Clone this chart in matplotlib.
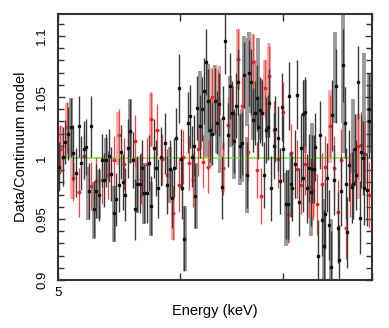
import numpy as np
import matplotlib
matplotlib.use('Agg')
from matplotlib import pyplot as plt
from matplotlib.ticker import MultipleLocator, FuncFormatter, NullLocator

plt.rcParams['font.family'] = ['Liberation Sans', 'DejaVu Sans']

# black data set: energy (keV), ratio, 1-sigma error
black_e = [5.01, 5.035, 5.055, 5.077, 5.098, 5.116, 5.137, 5.157, 5.177, 5.196,
           5.216, 5.234, 5.255, 5.276, 5.294, 5.316, 5.337, 5.353, 5.372, 5.396,
           5.412, 5.436, 5.455, 5.477, 5.495,
           5.51, 5.53, 5.55, 5.57, 5.59, 5.61, 5.63, 5.65, 5.666, 5.69,
           5.71, 5.73, 5.75, 5.77, 5.79, 5.81, 5.83, 5.87, 5.89, 5.91,
           5.93, 5.95, 5.97, 5.99, 6.01, 6.02, 6.04,
           6.07, 6.09, 6.11, 6.13, 6.14, 6.16, 6.18, 6.20, 6.22, 6.24,
           6.26, 6.28, 6.30, 6.32, 6.34, 6.36, 6.39, 6.40, 6.42, 6.45,
           6.47, 6.49, 6.51, 6.53, 6.55, 6.57, 6.59, 6.61, 6.63, 6.65,
           6.67, 6.69, 6.71, 6.73, 6.75, 6.77, 6.79, 6.81, 6.83, 6.85,
           6.86, 6.88, 6.91, 6.92, 6.95, 6.97, 6.99, 7.00, 7.03, 7.05,
           7.07, 7.09, 7.10, 7.13, 7.15, 7.17, 7.19, 7.21, 7.22, 7.24,
           7.26, 7.28, 7.30,
           7.31, 7.33, 7.35, 7.38, 7.40, 7.42, 7.44, 7.46, 7.48, 7.50,
           7.52, 7.54, 7.56, 7.58, 7.60, 7.62, 7.64, 7.66, 7.68, 7.70,
           7.71, 7.73, 7.76, 7.78, 7.80, 7.81, 7.83, 7.86, 7.87, 7.89,
           7.91, 7.94, 7.96, 7.97]
black_r = [0.993, 1.001, 1.013, 1.020, 1.025, 1.004, 0.988, 1.026, 0.996, 1.007,
           1.009, 0.973, 1.026, 0.958, 0.973, 0.970, 0.998, 0.982, 0.998, 1.002,
           0.987, 0.955, 0.966, 0.978, 1.005,
           0.980, 0.970, 1.008, 1.022, 0.998, 0.958, 0.979, 0.979, 0.992, 0.971,
           0.971, 0.996, 0.961, 1.008, 0.992, 0.975, 1.001, 1.012, 0.978, 0.991,
           0.967, 0.992, 1.016, 1.057, 0.999, 0.975, 0.934,
           1.029, 1.034, 1.001, 1.010, 0.969, 1.041, 1.026, 1.040, 1.055, 1.079,
           1.047, 1.023, 1.020, 1.047, 1.029, 1.044, 0.976, 1.033, 1.096, 1.019,
           1.059, 1.037, 1.014, 1.043, 1.062, 1.010, 1.012, 1.068, 0.986, 1.070,
           1.062, 1.031, 1.037, 1.049, 1.025, 1.039, 1.037, 0.986, 1.023, 1.025,
           1.045, 0.975, 1.010, 1.024, 1.016, 0.981, 1.042, 1.007, 0.962, 0.962,
           1.051, 0.979, 0.975, 0.995, 1.052, 0.964, 1.008, 1.036, 0.984, 1.038,
           0.975, 0.992, 0.972,
           0.991, 0.991, 1.009, 0.920, 1.019, 0.949, 0.928, 0.954, 0.984, 0.945,
           0.911, 1.035, 0.982, 1.059, 0.943, 0.916, 0.973, 1.076, 1.029, 0.979,
           0.939, 0.994, 0.976, 0.979, 1.007, 0.986, 1.062, 0.951, 1.005, 1.000,
           0.975, 0.974, 1.040, 1.030]
black_err = [0.020, 0.024, 0.018, 0.022, 0.024, 0.023, 0.020, 0.025, 0.022, 0.023,
             0.023, 0.023, 0.025, 0.023, 0.022, 0.022, 0.022, 0.022, 0.022, 0.022,
             0.022, 0.023, 0.022, 0.022, 0.022,
             0.023, 0.022, 0.024, 0.026, 0.023, 0.025, 0.023, 0.024, 0.023, 0.024,
             0.024, 0.023, 0.024, 0.024, 0.023, 0.024, 0.024, 0.025, 0.024, 0.024,
             0.024, 0.024, 0.025, 0.028, 0.025, 0.025, 0.027,
             0.025, 0.026, 0.025, 0.025, 0.026, 0.026, 0.026, 0.026, 0.027, 0.027,
             0.026, 0.026, 0.026, 0.027, 0.026, 0.026, 0.026, 0.026, 0.027, 0.026,
             0.027, 0.026, 0.026, 0.027, 0.027, 0.026, 0.026, 0.027, 0.027, 0.027,
             0.027, 0.026, 0.026, 0.027, 0.026, 0.027, 0.027, 0.027, 0.027, 0.027,
             0.028, 0.027, 0.027, 0.027, 0.027, 0.027, 0.028, 0.027, 0.028, 0.028,
             0.028, 0.027, 0.027, 0.028, 0.028, 0.028, 0.028, 0.028, 0.028, 0.028,
             0.028, 0.028, 0.028,
             0.028, 0.028, 0.028, 0.029, 0.028, 0.029, 0.029, 0.029, 0.028, 0.029,
             0.029, 0.029, 0.029, 0.030, 0.029, 0.029, 0.029, 0.030, 0.029, 0.029,
             0.029, 0.029, 0.029, 0.029, 0.029, 0.029, 0.030, 0.030, 0.030, 0.030,
             0.030, 0.030, 0.030, 0.030]

# red data set
red_e = [5.015, 5.065, 5.116, 5.16, 5.20, 5.25, 5.295, 5.34, 5.39, 5.44,
         5.48, 5.52, 5.57, 5.61, 5.66, 5.71, 5.75, 5.80, 5.84, 5.89,
         5.94, 5.99, 6.03, 6.08, 6.12, 6.17, 6.21, 6.26, 6.30, 6.35,
         6.40, 6.45, 6.50, 6.55, 6.59, 6.64, 6.69, 6.73, 6.78, 6.82,
         6.86, 6.91, 6.95, 7.00, 7.05, 7.09, 7.15, 7.19, 7.24, 7.28,
         7.32, 7.37, 7.42, 7.46, 7.51, 7.56, 7.60, 7.64, 7.69, 7.74,
         7.78, 7.83, 7.87, 7.92, 7.97]
red_r = [1.007, 1.025, 0.984, 0.972, 1.002, 0.977, 0.981, 0.982, 0.986, 0.998,
         1.019, 0.995, 1.021, 1.014, 0.983, 0.995, 1.032, 1.023, 0.999, 0.986,
         0.955, 0.978, 1.001, 0.996, 0.982, 1.007, 0.997, 0.993, 1.050, 1.048,
         0.992, 1.027, 1.036, 1.081, 1.043, 1.005, 1.079, 0.990, 0.969, 1.057,
         1.067, 1.023, 0.999, 1.038, 0.954, 1.004, 0.991, 0.978, 0.995, 0.976,
         0.974, 0.962, 0.979, 0.993, 1.026, 0.992, 0.956, 0.998, 0.943, 0.978,
         0.980, 1.010, 1.011, 1.003, 0.970]
red_err = [0.020, 0.021, 0.019, 0.020, 0.020, 0.020, 0.020, 0.020, 0.020, 0.020,
           0.021, 0.021, 0.021, 0.021, 0.021, 0.021, 0.022, 0.021, 0.021, 0.021,
           0.022, 0.022, 0.022, 0.022, 0.022, 0.022, 0.022, 0.022, 0.023, 0.024,
           0.022, 0.023, 0.023, 0.025, 0.023, 0.023, 0.023, 0.023, 0.023, 0.024,
           0.025, 0.024, 0.024, 0.024, 0.024, 0.024, 0.024, 0.024, 0.025, 0.025,
           0.025, 0.025, 0.025, 0.025, 0.026, 0.026, 0.026, 0.026, 0.026, 0.026,
           0.026, 0.027, 0.027, 0.027, 0.027]

# grey bars (no markers)
grey_e = [5.10, 5.23, 5.28, 5.32, 5.37, 5.44, 5.57, 5.63, 5.69, 5.75,
          5.91, 6.05, 6.15, 6.18, 6.24, 6.26, 6.28, 6.32, 6.34, 6.36,
          6.37, 6.47, 6.51, 6.57, 6.59, 6.61, 6.63, 6.63, 6.65, 6.69,
          6.71, 6.74, 6.78, 6.84, 7.03, 7.05, 7.09, 7.24, 7.30, 7.31,
          7.44, 7.52, 7.57, 7.66, 7.67, 7.78, 7.91, 7.96]
grey_r = [1.025, 0.971, 0.957, 0.970, 0.999, 0.954, 1.022, 0.978, 0.971, 0.958,
          0.986, 0.934, 0.969, 1.039, 1.028, 1.050, 1.018, 1.047, 1.029, 1.055,
          1.010, 1.038, 1.010, 1.007, 1.010, 1.070, 0.986, 1.062, 1.070, 1.040,
          1.053, 1.064, 1.040, 1.043, 0.958, 0.960, 0.978, 1.034, 0.967, 0.989,
          0.933, 0.925, 1.066, 1.074, 1.031, 1.018, 1.044, 1.037]
grey_err = [0.024, 0.022, 0.023, 0.020, 0.017, 0.023, 0.026, 0.023, 0.025, 0.022,
            0.023, 0.027, 0.027, 0.032, 0.027, 0.027, 0.025, 0.029, 0.025, 0.020,
            0.022, 0.029, 0.027, 0.029, 0.030, 0.030, 0.031, 0.036, 0.033, 0.025,
            0.027, 0.034, 0.025, 0.027, 0.030, 0.030, 0.026, 0.030, 0.031, 0.040,
            0.033, 0.025, 0.037, 0.045, 0.027, 0.030, 0.042, 0.033]

# pink bars (no markers)
pink_e = [5.02, 5.07, 5.105, 5.11, 5.47, 5.75, 5.94, 6.30, 6.35, 6.40,
          6.55, 6.69, 6.82, 6.86, 7.28, 7.32, 7.51, 7.83]
pink_r = [1.007, 1.023, 0.984, 0.981, 1.016, 1.031, 0.955, 1.051, 1.049, 0.992,
          1.081, 1.079, 1.057, 1.067, 0.975, 0.974, 1.026, 1.001]
pink_err = [0.019, 0.022, 0.018, 0.015, 0.022, 0.022, 0.022, 0.023, 0.026, 0.020,
            0.025, 0.023, 0.023, 0.027, 0.023, 0.022, 0.030, 0.035]

fig = plt.figure(figsize=(3.89, 3.28), dpi=100)
ax = fig.add_axes([58/389, 48/328, 314/389, 266/328])

ax.vlines(grey_e, np.array(grey_r) - np.array(grey_err), np.array(grey_r) + np.array(grey_err),
          color='#9a9a9a', lw=2.8, zorder=1)
ax.vlines(pink_e, np.array(pink_r) - np.array(pink_err), np.array(pink_r) + np.array(pink_err),
          color='#f8aaaa', lw=2.8, zorder=1)

ax.axhline(1.0, color='#8ae650', lw=1.3, zorder=2)

ax.errorbar(red_e, red_r, yerr=red_err, xerr=0.016, fmt='s', ms=1.8, color='#ff2020',
            ecolor='#ff4040', elinewidth=0.9, capsize=0, zorder=3)
ax.errorbar(black_e, black_r, yerr=black_err, fmt='s', ms=2.0, color='#111111',
            ecolor='#3a3a3a', elinewidth=1.0, capsize=0, zorder=4)

ax.set_xscale('log')
ax.set_xlim(5, 8)
ax.set_ylim(0.9, 1.118)

ax.set_xticks([5, 6, 7, 8])
ax.set_xticklabels(['5', '', '', ''])
ax.xaxis.set_minor_locator(NullLocator())
ax.yaxis.set_major_locator(MultipleLocator(0.05))
ax.yaxis.set_minor_locator(MultipleLocator(0.01))
ax.yaxis.set_major_formatter(FuncFormatter(lambda v, p: '%g' % round(v, 3)))

ax.tick_params(which='both', direction='in', top=True, right=True, color='#333333',
               labelsize=9.5, width=1.0)
ax.tick_params(which='major', length=5)
ax.tick_params(which='minor', length=4)
ax.tick_params(axis='y', pad=7)
ax.tick_params(axis='x', pad=5)
for lab in ax.get_yticklabels():
    lab.set_rotation(90)
    lab.set_va('center')

for sp in ax.spines.values():
    sp.set_linewidth(1.5)
    sp.set_color('#333333')

ax.set_xlabel('Energy (keV)', fontsize=10.5, labelpad=4)
ax.set_ylabel('Data/Continuum model', fontsize=10.5, labelpad=6)

plt.savefig('out.png', dpi=100)
